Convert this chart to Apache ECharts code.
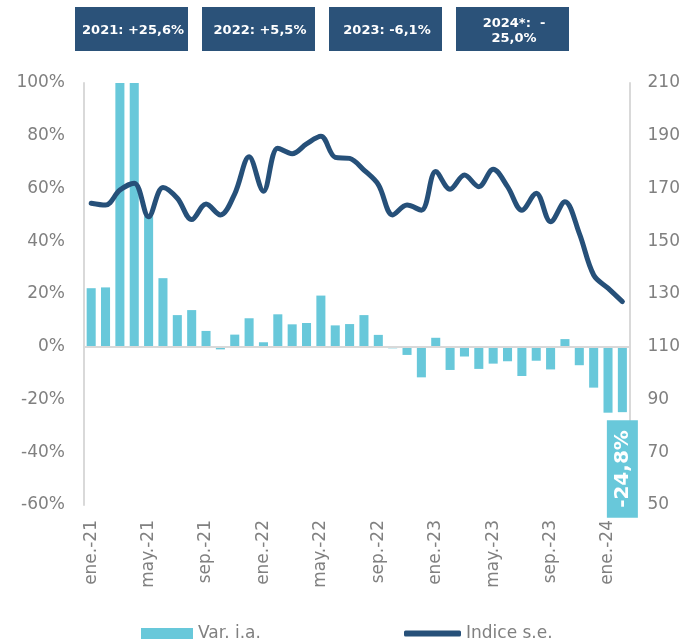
<!DOCTYPE html>
<html>
<head>
<meta charset="utf-8">
<script src="https://cdn.jsdelivr.net/npm/echarts@6/dist/echarts.min.js"></script>
<style>
html,body{margin:0;padding:0;background:#fff;}
#chart{width:683px;height:641px;}
</style>
</head>
<body>
<div id="chart"></div>
<script>
var categories = [
  'ene.-21','feb.-21','mar.-21','abr.-21','may.-21','jun.-21','jul.-21','ago.-21','sep.-21','oct.-21','nov.-21','dic.-21',
  'ene.-22','feb.-22','mar.-22','abr.-22','may.-22','jun.-22','jul.-22','ago.-22','sep.-22','oct.-22','nov.-22','dic.-22',
  'ene.-23','feb.-23','mar.-23','abr.-23','may.-23','jun.-23','jul.-23','ago.-23','sep.-23','oct.-23','nov.-23','dic.-23',
  'ene.-24','feb.-24'
];
var varIA = [22.2, 22.5, 100, 100, 49.5, 26.0, 12.0, 13.9, 6.0, -1.0, 4.6, 10.8,
             1.7, 12.3, 8.5, 9.0, 19.4, 8.1, 8.6, 12.0, 4.5, -0.6, -3.1, -11.6,
             3.4, -8.8, -3.7, -8.4, -6.4, -5.5, -11.1, -5.3, -8.6, 2.9, -7.0, -15.5,
             -25.0, -24.8];
var indiceSE = [164.4, 163.7, 169.4, 172.0, 159.3, 170.4, 166.3, 158.2, 164.1, 160.0, 168.0, 182.0,
                169.0, 185.3, 183.2, 186.9, 189.8, 181.8, 181.4, 177.0, 171.5, 160.0, 163.7, 161.8,
                176.4, 169.7, 175.1, 170.7, 177.3, 170.7, 161.8, 168.2, 157.4, 165.0, 153.0, 137.2,
                132.2, 127.1];
var yearBoxes = ['2021: +25,6%', '2022: +5,5%', '2023: -6,1%', '2024*:  -\n25,0%'];
var lastLabel = '-24,8%';
var seriesNames = ['Var. i.a.', 'Indice s.e.'];

var BAR = '#68C8DA', LINE = '#265079', BOX = '#2B5279', GRAY = '#808080', AXIS = '#D9D9D9';
var FONT = 'DejaVu Sans';

var chart = echarts.init(document.getElementById('chart'), null, {renderer: 'canvas'});

var boxGraphics = yearBoxes.map(function (t, i) {
  return {
    type: 'group',
    left: 75 + i * 127,
    top: 7,
    children: [
      {type: 'rect', shape: {x: 0, y: 0, width: 113, height: 44}, style: {fill: BOX}},
      {type: 'text', x: 58, y: 24, style: {text: t, fill: '#fff', font: 'bold 13px "' + FONT + '"', align: 'center', verticalAlign: 'middle', lineHeight: 15}}
    ]
  };
});

var option = {
  animation: false,
  backgroundColor: '#fff',
  textStyle: {fontFamily: FONT},
  graphic: boxGraphics,
  legend: [
    {
      data: [{name: seriesNames[0], icon: 'rect'}],
      left: 136, top: 620, itemWidth: 52, itemHeight: 11, itemGap: 5,
      textStyle: {color: GRAY, fontSize: 17, fontFamily: FONT}
    },
    {
      data: [{name: seriesNames[1], icon: 'roundRect'}],
      left: 399, top: 620, itemWidth: 57, itemHeight: 6, itemGap: 5,
      textStyle: {color: GRAY, fontSize: 17, fontFamily: FONT}
    }
  ],
  grid: {left: 84, right: 53, top: 83, bottom: 136, containLabel: false},
  xAxis: {
    type: 'category',
    data: categories,
    axisLine: {show: false, onZero: false},
    axisTick: {show: false},
    axisLabel: {interval: 3, rotate: 90, color: GRAY, fontSize: 17, fontFamily: FONT, margin: 15}
  },
  yAxis: [
    {
      type: 'value', min: -60, max: 100, interval: 20,
      splitLine: {show: false},
      axisLine: {show: true, lineStyle: {color: AXIS, width: 2}},
      axisTick: {show: false},
      axisLabel: {formatter: '{value}%', color: GRAY, fontSize: 17, fontFamily: FONT, margin: 19}
    },
    {
      type: 'value', min: 50, max: 210, interval: 20,
      splitLine: {show: false},
      axisLine: {show: true, lineStyle: {color: AXIS, width: 2}},
      axisTick: {show: false},
      axisLabel: {color: GRAY, fontSize: 17, fontFamily: FONT, margin: 18}
    }
  ],
  series: [
    {
      name: seriesNames[0],
      type: 'bar',
      yAxisIndex: 0,
      barWidth: '63%',
      clip: true,
      itemStyle: {color: BAR},
      data: varIA.map(function (v, i) {
        if (i === varIA.length - 1) {
          return {
            value: v,
            label: {
              show: true, position: 'bottom', distance: 8, rotate: 90,
              align: 'right', verticalAlign: 'middle',
              formatter: lastLabel, color: '#fff', fontWeight: 'bold', fontSize: 20, fontFamily: FONT,
              lineHeight: 21, backgroundColor: BAR, padding: [5, 10, 5, 10]
            }
          };
        }
        return v;
      }),
      markLine: {
        silent: true, symbol: 'none', label: {show: false},
        lineStyle: {color: AXIS, width: 2, type: 'solid'},
        data: [{yAxis: 0}]
      },
      z: 2
    },
    {
      name: seriesNames[1],
      type: 'line',
      yAxisIndex: 1,
      smooth: 0.35,
      symbol: 'none',
      lineStyle: {color: LINE, width: 5, cap: 'round', join: 'round'},
      itemStyle: {color: LINE},
      data: indiceSE,
      z: 3
    }
  ]
};
chart.setOption(option);
</script>
</body>
</html>
